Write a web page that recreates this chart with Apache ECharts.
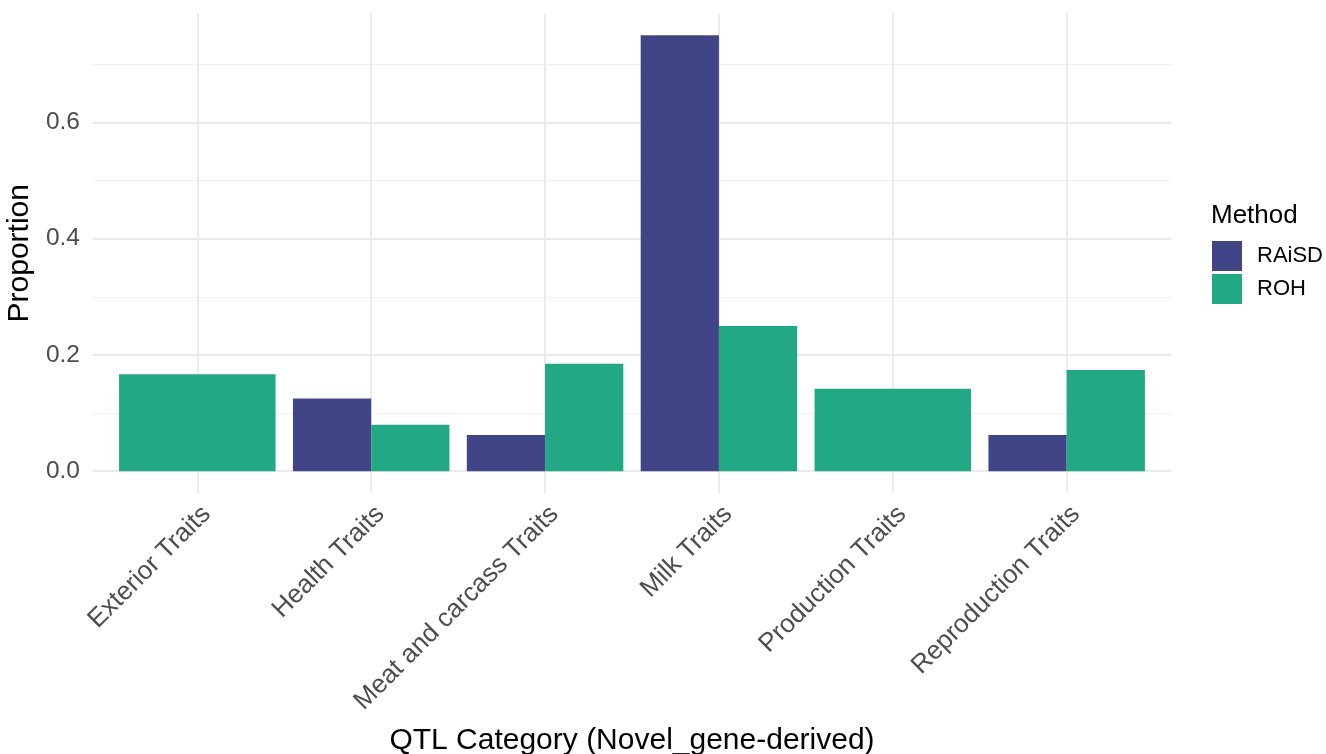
<!DOCTYPE html>
<html>
<head>
<meta charset="utf-8">
<script src="https://cdn.jsdelivr.net/npm/echarts@6/dist/echarts.min.js"></script>
<style>
  html, body { margin: 0; padding: 0; background: #ffffff; }
  #chart { width: 1326px; height: 754px; }
</style>
</head>
<body>
<div id="chart"></div>
<script>
// QTL categories on the x axis
const categories = [
  'Exterior Traits',
  'Health Traits',
  'Meat and carcass Traits',
  'Milk Traits',
  'Production Traits',
  'Reproduction Traits'
];
const methods = ['RAiSD', 'ROH'];

// Proportion of genes per category; null = no genes for that method
const raisdValues = [null, 0.125, 0.0625, 0.75, null, 0.0625];
const rohValues = [0.1667, 0.08, 0.185, 0.25, 0.142, 0.174];

// Axis ticks
const yTicks = [0, 0.2, 0.4, 0.6];
const yMinorTicks = [0.1, 0.3, 0.5, 0.7];

const methodColors = { RAiSD: '#414487', ROH: '#22A884' };
const valuesByMethod = { RAiSD: raisdValues, ROH: rohValues };

// Dodged bars: each category's width (0.9) is shared among the methods present
function buildData(method) {
  const out = [];
  categories.forEach((c, i) => {
    const present = methods.filter(m => valuesByMethod[m][i] != null);
    const slot = present.indexOf(method);
    if (slot < 0) return;
    out.push([i + 1, valuesByMethod[method][i], slot, present.length]);
  });
  return out;
}

function renderBar(color) {
  return function (params, api) {
    const x = api.value(0);
    const v = api.value(1);
    const slot = api.value(2);
    const n = api.value(3);
    const w = 0.9 / n;
    const left = x - 0.45 + slot * w;
    const p0 = api.coord([left, v]);
    const p1 = api.coord([left + w, 0]);
    return {
      type: 'rect',
      shape: { x: p0[0], y: p0[1], width: p1[0] - p0[0], height: p1[1] - p0[1] },
      style: { fill: color }
    };
  };
}

const xPositions = categories.map((c, i) => i + 1);
const fontFamily = '"Liberation Sans", Arial, Helvetica, sans-serif';

const chart = echarts.init(document.getElementById('chart'), null, { renderer: 'canvas' });

chart.setOption({
  animation: false,
  backgroundColor: '#ffffff',
  textStyle: { fontFamily: fontFamily },
  title: {
    text: 'Method',
    left: 1211,
    top: 203,
    padding: 0,
    textStyle: { fontSize: 26, fontWeight: 'normal', color: '#000000', fontFamily: fontFamily }
  },
  legend: {
    orient: 'vertical',
    left: 1212,
    top: 241,
    padding: 0,
    itemWidth: 30,
    itemHeight: 30,
    itemGap: 3,
    icon: 'rect',
    selectedMode: false,
    data: methods.map(m => ({ name: m, itemStyle: { color: methodColors[m] } })),
    textStyle: { fontSize: 22, color: '#000000', fontFamily: fontFamily, padding: [0, 0, 0, 10] }
  },
  grid: {
    left: 93,
    right: 155,
    top: 13.5,
    bottom: 261,
    containLabel: false,
    outerBoundsMode: 'none'
  },
  xAxis: {
    type: 'value',
    min: 0.4,
    max: 6.6,
    name: 'QTL Category (Novel_gene-derived)',
    nameLocation: 'middle',
    nameGap: 233,
    nameTextStyle: { fontSize: 30, color: '#000000', fontFamily: fontFamily },
    axisLine: { show: false },
    axisTick: { show: false, customValues: xPositions },
    axisLabel: {
      customValues: xPositions,
      rotate: 45,
      align: 'right',
      verticalAlign: 'top',
      margin: 8,
      fontSize: 26,
      color: '#4D4D4D',
      fontFamily: fontFamily,
      formatter: v => categories[Math.round(v) - 1] || ''
    },
    splitLine: { show: true, lineStyle: { color: '#EBEBEB', width: 2 } }
  },
  yAxis: [
    {
      type: 'value',
      min: -0.0375,
      max: 0.7875,
      position: 'left',
      name: 'Proportion',
      nameLocation: 'middle',
      nameRotate: 90,
      nameGap: 52,
      nameTextStyle: { fontSize: 30, color: '#000000', fontFamily: fontFamily },
      axisLine: { show: false },
      axisTick: { show: false, customValues: yTicks },
      axisLabel: {
        customValues: yTicks,
        margin: 13,
        fontSize: 24.5,
        color: '#4D4D4D',
        fontFamily: fontFamily,
        formatter: v => v.toFixed(1)
      },
      splitLine: { show: true, lineStyle: { color: '#EBEBEB', width: 2 } }
    },
    {
      type: 'value',
      min: -0.0375,
      max: 0.7875,
      position: 'left',
      axisLine: { show: false },
      axisTick: { show: false, customValues: yMinorTicks },
      axisLabel: { show: false },
      splitLine: { show: true, lineStyle: { color: '#F0F0F0', width: 1.2 } }
    }
  ],
  series: methods.map(m => ({
    name: m,
    type: 'custom',
    xAxisIndex: 0,
    yAxisIndex: 0,
    itemStyle: { color: methodColors[m] },
    renderItem: renderBar(methodColors[m]),
    encode: { x: 0, y: 1 },
    data: buildData(m),
    z: 3
  }))
});
</script>
</body>
</html>
